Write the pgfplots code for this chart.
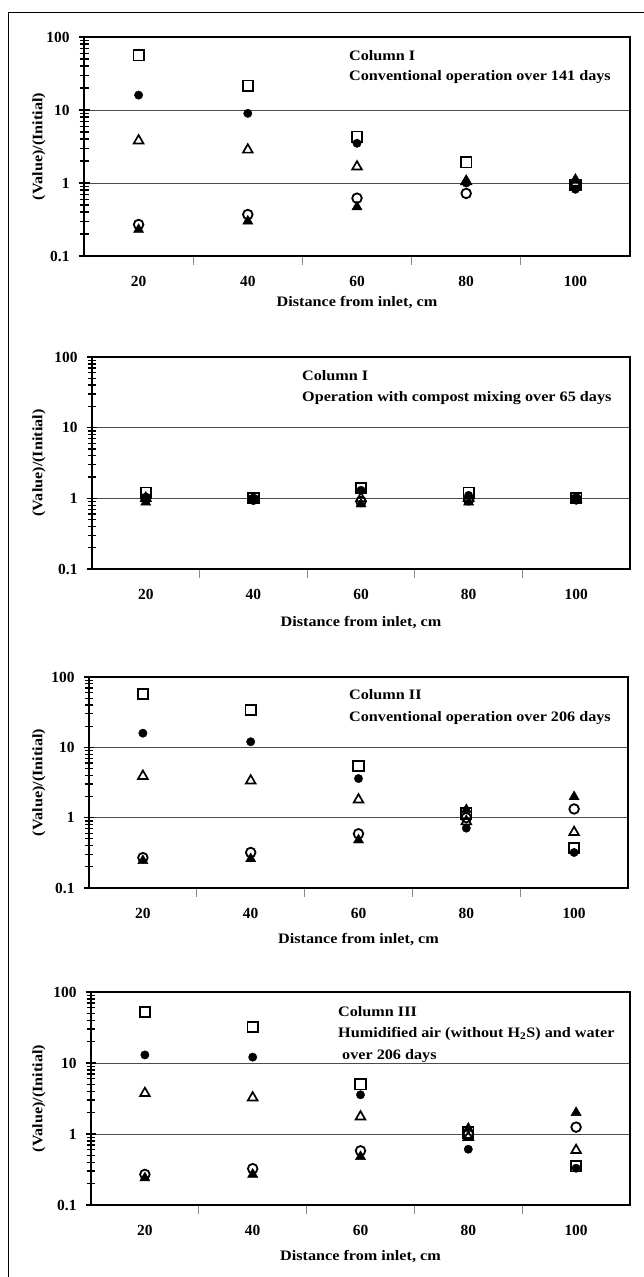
\documentclass[border=0pt]{standalone}
\usepackage{fontspec}
\setmainfont{Liberation Serif}
\newfontfamily\widefont[FakeStretch=1.12]{Liberation Serif}
\usepackage{pgfplots}
\pgfplotsset{compat=1.18}
\usepackage{pgfplotstable}

\newcommand\fs{\fontsize{15.5}{18}\selectfont\bfseries}
\newcommand\ft{\widefont\fontsize{14.5}{17}\selectfont\bfseries}

% columns: square, filled circle, open triangle, open circle, filled triangle
\pgfplotstableread{
x   sq    dot   otri  ocirc  ftri
20  56    16    3.8   0.27   0.23
40  21.5  9.0   2.85  0.37   0.30
60  4.3   3.5   1.67  0.62   0.47
80  1.92  1.0   1.05  0.72   1.07
100 0.95  0.82  1.0   0.9    1.12
}\colA
\pgfplotstableread{
x   sq    dot   otri  ocirc  ftri
20  1.2   1.0   1.0   1.0    0.88
40  1.0   0.95  0.95  0.97   0.93
60  1.4   1.3   1.0   0.9    0.83
80  1.2   1.1   1.0   0.95   0.88
100 1.0   0.95  0.97  0.98   0.93
}\colB
\pgfplotstableread{
x   sq    dot   otri  ocirc  ftri
20  57    15.9  3.9   0.27   0.245
40  34    12.0  3.35  0.32   0.26
60  5.4   3.6   1.8   0.59   0.48
80  1.15  0.71  0.88  1.0    1.3
100 0.37  0.32  0.62  1.33   1.98
}\colC
\pgfplotstableread{
x   sq    dot   otri  ocirc  ftri
20  52    13    3.75  0.27   0.24
40  32    12.1  3.25  0.325  0.27
60  5.0   3.57  1.75  0.58   0.48
80  1.05  0.61  0.9   1.0    1.2
100 0.35  0.33  0.59  1.25   2.0
}\colD

\pgfplotsset{
  every axis/.append style={
    scale only axis,
    ymin=0.1, ymax=100,
    xmin=10, xmax=110,
    axis line style={line width=1.4bp},
    xtick={20,40,60,80,100}, xticklabels={20,40,60,80,100},
    minor xtick={30,50,70,90},
    ytick={0.1,1,10,100}, yticklabels={0.1,1,10,100},
    minor ytick={0.2,0.3,0.4,0.5,0.6,0.7,0.8,0.9,2,3,4,5,6,7,8,9,20,30,40,50,60,70,80,90},
    tick align=center, major tick length=11bp, minor tick length=9bp,
    xtick pos=bottom, ytick pos=left,
    ymajorgrids, major grid style={black!70, line width=0.8bp},
    tick label style={font=\fs},
    yticklabel style={xshift=-5.5bp},
    xticklabel style={anchor=center, yshift=-20bp},
    label style={font=\ft},
    xlabel={Distance from inlet, cm},
    ylabel={(Value)/(Initial)},
  },
  every major x tick/.append style={draw=none},
  every minor x tick/.append style={draw=black!45, line width=0.8bp, yshift=-4.5bp},
  every major y tick/.append style={draw=black, line width=1.3bp},
  every minor y tick/.append style={draw=black, line width=1.3bp},
  sqm/.style={only marks, mark=square, mark size=5.2bp, mark options={line width=1.8bp, draw=black}},
  dotm/.style={only marks, mark=*, mark size=4.2bp, mark options={draw=black, fill=black}},
  otrim/.style={only marks, mark=triangle, mark size=5.6bp, mark options={line width=1.7bp, draw=black}},
  ocircm/.style={only marks, mark=o, mark size=4.8bp, mark options={line width=1.8bp, draw=black}},
  ftrim/.style={only marks, mark=triangle*, mark size=5.9bp, mark options={draw=black, fill=black}},
}

\begin{document}
\begin{tikzpicture}
\useasboundingbox (0,0) rectangle (644bp,-1277bp);
\draw[line width=1bp] (8bp,-1277bp) -- (8bp,-12.5bp) -- (644bp,-12.5bp);

% Column I, conventional
\begin{semilogyaxis}[at={(84bp,-256bp)}, anchor=south west, width=546bp, height=219bp,
  xlabel style={at={(axis description cs:0.5,0)}, anchor=center, yshift=-47bp},
  ylabel style={at={(axis description cs:-0.0824,0.5)}, anchor=center}]
\addplot[sqm] table[x=x, y=sq] {\colA};
\addplot[otrim] table[x=x, y=otri] {\colA};
\addplot[ocircm] table[x=x, y=ocirc] {\colA};
\addplot[dotm] table[x=x, y=dot] {\colA};
\addplot[ftrim] table[x=x, y=ftri] {\colA};
\end{semilogyaxis}
\node[font=\ft, anchor=base west, inner sep=0pt] at (349bp,-60bp) {Column I};
\node[font=\ft, anchor=base west, inner sep=0pt] at (349bp,-80.5bp) {Conventional operation over 141 days};

% Column I, compost mixing
\begin{semilogyaxis}[at={(92bp,-569bp)}, anchor=south west, width=538bp, height=212bp,
  xlabel style={at={(axis description cs:0.5,0)}, anchor=center, yshift=-54bp},
  ylabel style={at={(axis description cs:-0.0985,0.5)}, anchor=center}]
\addplot[sqm] table[x=x, y=sq] {\colB};
\addplot[otrim] table[x=x, y=otri] {\colB};
\addplot[ocircm] table[x=x, y=ocirc] {\colB};
\addplot[dotm] table[x=x, y=dot] {\colB};
\addplot[ftrim] table[x=x, y=ftri] {\colB};
\end{semilogyaxis}
\node[font=\ft, anchor=base west, inner sep=0pt] at (302bp,-380bp) {Column I};
\node[font=\ft, anchor=base west, inner sep=0pt] at (302bp,-401bp) {Operation with compost mixing over 65 days};

% Column II
\begin{semilogyaxis}[at={(89bp,-888bp)}, anchor=south west, width=539bp, height=211bp,
  xlabel style={at={(axis description cs:0.5,0)}, anchor=center, yshift=-52bp},
  ylabel style={at={(axis description cs:-0.0928,0.5)}, anchor=center}]
\addplot[sqm] table[x=x, y=sq] {\colC};
\addplot[otrim] table[x=x, y=otri] {\colC};
\addplot[ocircm] table[x=x, y=ocirc] {\colC};
\addplot[dotm] table[x=x, y=dot] {\colC};
\addplot[ftrim] table[x=x, y=ftri] {\colC};
\end{semilogyaxis}
\node[font=\ft, anchor=base west, inner sep=0pt] at (349bp,-699bp) {Column II};
\node[font=\ft, anchor=base west, inner sep=0pt] at (349bp,-721bp) {Conventional operation over 206 days};

% Column III
\begin{semilogyaxis}[at={(91bp,-1205bp)}, anchor=south west, width=539bp, height=213bp,
  xlabel style={at={(axis description cs:0.5,0)}, anchor=center, yshift=-52bp},
  ylabel style={at={(axis description cs:-0.0965,0.5)}, anchor=center}]
\addplot[sqm] table[x=x, y=sq] {\colD};
\addplot[otrim] table[x=x, y=otri] {\colD};
\addplot[ocircm] table[x=x, y=ocirc] {\colD};
\addplot[dotm] table[x=x, y=dot] {\colD};
\addplot[ftrim] table[x=x, y=ftri] {\colD};
\end{semilogyaxis}
\node[font=\ft, anchor=base west, inner sep=0pt] at (338bp,-1016bp) {Column III};
\node[font=\ft, anchor=base west, inner sep=0pt] at (338bp,-1037bp) {Humidified air (without H\textsubscript{2}S) and water};
\node[font=\ft, anchor=base west, inner sep=0pt] at (342bp,-1059bp) {over 206 days};
\end{tikzpicture}
\end{document}
